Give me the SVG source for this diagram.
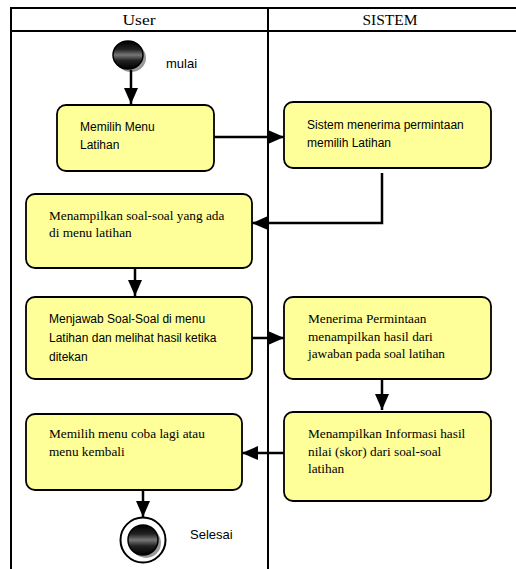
<svg xmlns="http://www.w3.org/2000/svg" width="516" height="569" viewBox="0 0 516 569">
<style>
.lane{stroke:#000;stroke-width:2;fill:none}
.hdr{font-family:"Liberation Serif",serif;font-size:15px;fill:#000;text-anchor:middle}
.box{fill:#ffff99;stroke:#000;stroke-width:1.8}
.sans{font-family:"Liberation Sans",Arial,sans-serif;font-size:12px;fill:#000}
.serif{font-family:"Liberation Serif","Times New Roman",serif;font-size:13.3px;fill:#000}
.lbl{font-family:"Liberation Sans",Arial,sans-serif;font-size:13px;fill:#000}
.conn{stroke:#000;stroke-width:2.5;fill:none;marker-end:url(#arr)}
</style>
<defs>
<marker id="arr" markerUnits="userSpaceOnUse" markerWidth="16" markerHeight="14" refX="16" refY="7" orient="auto">
<path d="M0,0 L16,7 L0,14 Z" fill="#000"/>
</marker>
<linearGradient id="ball" x1="0" y1="0" x2="0" y2="1">
<stop offset="0" stop-color="#000"/>
<stop offset="0.3" stop-color="#222"/>
<stop offset="0.5" stop-color="#777"/>
<stop offset="0.7" stop-color="#222"/>
<stop offset="1" stop-color="#000"/>
</linearGradient>
</defs>
<rect width="516" height="569" fill="#fff"/>
<g id="swimlanes">
<line class="lane" x1="11" y1="8" x2="516" y2="8"/>
<line class="lane" x1="11" y1="31" x2="516" y2="31"/>
<line class="lane" x1="11" y1="7" x2="11" y2="569"/>
<line class="lane" x1="268" y1="7" x2="268" y2="569"/>
<text class="hdr" x="139" y="25" textLength="33" lengthAdjust="spacingAndGlyphs">User</text>
<text class="hdr" x="390" y="25" textLength="55" lengthAdjust="spacingAndGlyphs">SISTEM</text>
</g>
<g id="start">
<ellipse cx="131" cy="58" rx="15" ry="14" fill="#999"/>
<ellipse cx="128" cy="55" rx="15" ry="14" fill="url(#ball)" stroke="#000" stroke-width="1.5"/>
<text class="lbl" x="166" y="68">mulai</text>
</g>
<g id="a1">
<rect class="box" x="57" y="105" width="157" height="66" rx="9"/>
<text class="sans" x="80" y="131">Memilih Menu</text>
<text class="sans" x="80" y="149">Latihan</text>
</g>
<g id="a2">
<rect class="box" x="284" y="102" width="207" height="66" rx="9"/>
<text class="sans" x="307" y="129">Sistem menerima permintaan</text>
<text class="sans" x="307" y="147">memilih Latihan</text>
</g>
<g id="a3">
<rect class="box" x="26" y="194" width="226" height="74" rx="9"/>
<text class="serif" x="49" y="220">Menampilkan soal-soal yang ada</text>
<text class="serif" x="49" y="237">di menu latihan</text>
</g>
<g id="a4">
<rect class="box" x="26" y="297" width="226" height="82" rx="9"/>
<text class="sans" x="49" y="323">Menjawab Soal-Soal di menu</text>
<text class="sans" x="49" y="342">Latihan dan melihat hasil ketika</text>
<text class="sans" x="49" y="361">ditekan</text>
</g>
<g id="a5">
<rect class="box" x="284" y="297" width="207" height="82" rx="9"/>
<text class="serif" x="308" y="323">Menerima Permintaan</text>
<text class="serif" x="308" y="341">menampilkan hasil dari</text>
<text class="serif" x="308" y="358">jawaban pada soal latihan</text>
</g>
<g id="a6">
<rect class="box" x="284" y="412" width="207" height="89" rx="9"/>
<text class="serif" x="308" y="438">Menampilkan Informasi hasil</text>
<text class="serif" x="308" y="456">nilai (skor) dari soal-soal</text>
<text class="serif" x="308" y="473">latihan</text>
</g>
<g id="a7">
<rect class="box" x="26" y="414" width="216" height="76" rx="9"/>
<text class="serif" x="49" y="438">Memilih menu coba lagi atau</text>
<text class="serif" x="49" y="456">menu kembali</text>
</g>
<g id="end">
<circle cx="143" cy="540" r="22.5" fill="#fff" stroke="#000" stroke-width="2"/>
<circle cx="146" cy="543" r="15" fill="#999"/>
<circle cx="143" cy="540" r="15" fill="url(#ball)" stroke="#000" stroke-width="1.5"/>
<text class="lbl" x="190" y="539">Selesai</text>
</g>
<g id="connectors">
<path class="conn" d="M131,70 V104"/>
<path class="conn" d="M214,137 H284"/>
<path class="conn" d="M382,173 V223 H252"/>
<path class="conn" d="M135,268 V296"/>
<path class="conn" d="M252,338 H284"/>
<path class="conn" d="M382,379 V410"/>
<path class="conn" d="M284,453 H242"/>
<path class="conn" d="M143,490 V517"/>
</g>
</svg>
